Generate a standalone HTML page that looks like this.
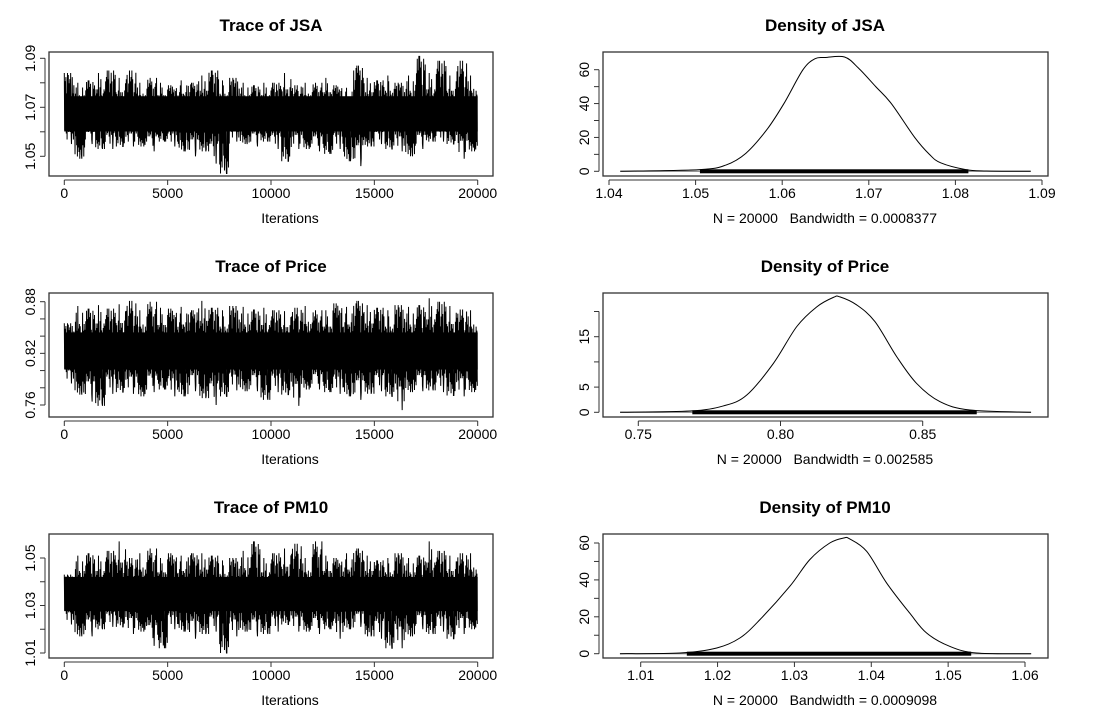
<!DOCTYPE html>
<html><head><meta charset="utf-8"><style>
html,body{margin:0;padding:0;background:#fff;}
svg{display:block;font-family:"Liberation Sans",Arial,sans-serif;}
</style></head><body>
<svg id="c" width="1111" height="723" viewBox="0 0 1111 723"></svg>
<script>
// ---- data ----
const traceNames = ["JSA","Price","PM10"];
const jsaHi = [1.084,1.080,1.081,1.084,1.085,1.082,1.085,1.080,1.082,1.080,1.079,1.081,1.080,1.083,1.085,1.081,1.082,1.080,1.079,1.080,1.080,1.084,1.079,1.080,1.080,1.082,1.079,1.078,1.087,1.082,1.081,1.083,1.080,1.083,1.091,1.084,1.089,1.083,1.089,1.083];
const jsaLo = [1.055,1.049,1.055,1.053,1.053,1.054,1.054,1.054,1.052,1.056,1.054,1.052,1.050,1.052,1.047,1.043,1.056,1.055,1.054,1.056,1.053,1.048,1.053,1.053,1.052,1.051,1.053,1.048,1.046,1.054,1.055,1.053,1.052,1.050,1.053,1.056,1.056,1.055,1.049,1.052];
const priceHi = [0.855,0.875,0.872,0.876,0.872,0.877,0.881,0.870,0.880,0.873,0.872,0.874,0.870,0.881,0.873,0.870,0.875,0.874,0.871,0.873,0.870,0.869,0.873,0.875,0.870,0.870,0.878,0.874,0.881,0.876,0.873,0.870,0.876,0.874,0.876,0.884,0.880,0.875,0.871,0.870];
const priceLo = [0.785,0.772,0.764,0.759,0.773,0.775,0.773,0.770,0.775,0.778,0.770,0.770,0.776,0.768,0.760,0.770,0.777,0.776,0.776,0.766,0.775,0.772,0.759,0.778,0.778,0.775,0.773,0.770,0.766,0.773,0.776,0.770,0.754,0.775,0.776,0.777,0.775,0.771,0.770,0.775];
const pmHi = [1.043,1.051,1.052,1.051,1.053,1.057,1.050,1.052,1.054,1.050,1.052,1.051,1.052,1.052,1.051,1.049,1.050,1.053,1.057,1.050,1.052,1.054,1.056,1.050,1.057,1.051,1.050,1.052,1.054,1.051,1.049,1.050,1.052,1.050,1.051,1.057,1.053,1.051,1.052,1.052];
const pmLo = [1.022,1.017,1.017,1.020,1.021,1.021,1.018,1.019,1.013,1.012,1.020,1.019,1.016,1.018,1.019,1.010,1.017,1.019,1.017,1.018,1.019,1.022,1.019,1.019,1.018,1.020,1.016,1.020,1.021,1.017,1.016,1.012,1.012,1.017,1.020,1.018,1.019,1.016,1.018,1.020];
const iterTicks = [0,5000,10000,15000,20000];
const jsaYTicks = [1.05,1.06,1.07,1.08,1.09];
const priceYTicks = [0.76,0.78,0.80,0.82,0.84,0.86,0.88];
const pmYTicks = [1.01,1.02,1.03,1.04,1.05];

const jsaDX = [1.0413,1.0505,1.0535,1.0558,1.0582,1.0602,1.0624,1.0638,1.0650,1.0672,1.0688,1.0708,1.0726,1.0753,1.0770,1.0783,1.0812,1.0836,1.0887];
const jsaDY = [0,1,3.7,10.6,24.4,40,60,66.5,67.2,67.5,61,50,40,20,10,5,1,0.2,0];
const priceDX = [0.7436,0.7682,0.7799,0.7881,0.7975,0.8057,0.8127,0.8186,0.8209,0.8268,0.8332,0.8409,0.8479,0.8561,0.8666,0.8881];
const priceDY = [0,0.26,1.26,3.4,9.7,17,20.9,22.8,22.9,21.3,18,11,5.7,2.1,0.46,0];
const pmDX = [1.0073,1.0151,1.0199,1.0229,1.0255,1.0294,1.032,1.0346,1.0364,1.0372,1.0394,1.042,1.045,1.0472,1.0502,1.0537,1.0608];
const pmDY = [0,0.36,3.1,8.5,18.4,36.5,51,60,62.7,62.2,55.5,38.3,22,11.2,4,0.36,0];
const jsaDXTicks = [1.04,1.05,1.06,1.07,1.08,1.09];
const jsaDYTicks = [0,10,20,30,40,50,60];
const priceDXTicks = [0.75,0.80,0.85];
const priceDYTicks = [0,5,10,15,20];
const pmDXTicks = [1.01,1.02,1.03,1.04,1.05,1.06];
const pmDYTicks = [0,10,20,30,40,50,60];
const bandwidths = ["0.0008377","0.002585","0.0009098"];

const svg = document.getElementById('c');
const NS = 'http://www.w3.org/2000/svg';
function mk(tag, attrs, parent){
  const e = document.createElementNS(NS, tag);
  for (const k in attrs) e.setAttribute(k, attrs[k]);
  (parent||svg).appendChild(e);
  return e;
}
function lin(d0,d1,r0,r1){ return v => r0 + (v-d0)*(r1-r0)/(d1-d0); }

function frame(g, x0,y0,x1,y1){
  const r = mk('rect',{x:x0,y:y0,width:x1-x0,height:y1-y0,fill:'none',stroke:'#333','stroke-width':1.3},g);
  
  
}
function text(g, x,y,s,opts){
  const t = mk('text',Object.assign({x:x,y:y,'text-anchor':'middle','font-size':14,fill:'#000'},opts||{}),g);
  t.textContent = s;
  return t;
}
function xAxis(g, ticks, sx, yb, fmt){
  const ax = mk('g',{},g);
  
  
  mk('line',{x1:sx(ticks[0]),x2:sx(ticks[ticks.length-1]),y1:yb+4,y2:yb+4,stroke:'#333'},ax);
  ticks.forEach((t)=>{
    mk('line',{x1:sx(t),x2:sx(t),y1:yb+4,y2:yb+9,stroke:'#333'},ax);
    const lb = text(ax, sx(t), yb+22, fmt(t));
    
    
  });
}
function yAxis(g, ticks, sy, xl, fmt, showLabel){
  const ax = mk('g',{},g);
  
  
  mk('line',{x1:xl-4,x2:xl-4,y1:sy(ticks[0]),y2:sy(ticks[ticks.length-1]),stroke:'#333'},ax);
  ticks.forEach((t,i)=>{
    mk('line',{x1:xl-4,x2:xl-9,y1:sy(t),y2:sy(t),stroke:'#333'},ax);
    if (showLabel(i)){
      const lx = xl-14;
      const lb = text(ax, lx, sy(t), fmt(t), {transform:`rotate(-90 ${lx} ${sy(t)})`});
      
      
    }
  });
}

const rows = [[52,176],[293,417],[534,658]];
const traceHi = [jsaHi,priceHi,pmHi], traceLo = [jsaLo,priceLo,pmLo];
const traceYT = [jsaYTicks,priceYTicks,pmYTicks];
const traceYMap = [[1.09,58.3,1.05,156.3],[0.88,301.7,0.76,405],[1.05,558,1.01,653]];
const dX = [jsaDX,priceDX,pmDX], dY=[jsaDY,priceDY,pmDY];
const dXT = [jsaDXTicks,priceDXTicks,pmDXTicks], dYT=[jsaDYTicks,priceDYTicks,pmDYTicks];
const dXMap = [[1.04,609,1.09,1042],[0.75,638.3,0.85,922.7],[1.01,640.7,1.06,1025]];
const dYMap = [[0,171.3,60,69.7],[0,412.3,15,336.7],[0,653.7,60,543]];
const dYLab = [i=>i%2==0, i=>i!=2 && i!=4, i=>i%2==0];
const tYLab = [i=>i%2==0, i=>i%3==0, i=>i%2==0];
const rugRange = [[1.0505,1.0815],[0.769,0.869],[1.016,1.053]];
// drawing pattern (style only): relative swing of each stroke inside a bin
const swing = [1,0.55,0.8,0.4,0.9,0.65,0.5,0.85,0.7,0.45,0.95,0.6,0.75,0.5,0.85,0.6];

rows.forEach((r,ri)=>{
  const [y0,y1] = r;
  // ---- trace panel ----
  const g = mk('g',{});
  
  
  const sx = lin(0,20000,64.3,477.7);
  const m = traceYMap[ri];
  const sy = lin(m[0],m[2],m[1],m[3]);
  const t1 = text(g,271,y0-21,'Trace of '+traceNames[ri],{'font-size':17,'font-weight':'bold'});
  
  
  const hi = traceHi[ri], lo = traceLo[ri];
  const n = hi.length, bw = 20000/n;
  const mean = (hi.reduce((a,b)=>a+b,0)+lo.reduce((a,b)=>a+b,0))/(2*n);
  let zig='';
  const K = 26;
  for (let i=0;i<n;i++){
    for (let k=0;k<K;k++){
      const s = swing[(k+i*3)%swing.length];
      const v = (k%2==0) ? mean+(hi[i]-mean)*s : mean-(mean-lo[i])*s;
      const vv = (k==Math.floor(K/3)) ? hi[i] : (k==Math.floor(2*K/3)+1 ? lo[i] : v);
      zig += `${sx((i+k/K)*bw)},${sy(vv)} `;
    }
  }
  const core = mk('rect',{x:sx(0),width:sx(20000)-sx(0),y:sy(mean)-0.18*(sy(m[2])-sy(m[0])),height:0.36*(sy(m[2])-sy(m[0])),fill:'#000'},g);
  
  
  const tl = mk('polyline',{points:zig,fill:'none',stroke:'#000','stroke-width':1},g);
  
  
  frame(g,49,y0,493,y1);
  xAxis(g,iterTicks,sx,y1,v=>String(v));
  yAxis(g,traceYT[ri],sy,49,v=>v.toFixed(2),tYLab[ri]);
  const xl = text(g,290,y1+47,'Iterations');
  
  

  // ---- density panel ----
  const h = mk('g',{});
  
  
  const dm = dXMap[ri], ym = dYMap[ri];
  const dsx = lin(dm[0],dm[2],dm[1],dm[3]);
  const dsy = lin(ym[0],ym[2],ym[1],ym[3]);
  const t2 = text(h,825,y0-21,'Density of '+traceNames[ri],{'font-size':17,'font-weight':'bold'});
  
  
  const xs = dX[ri], ys = dY[ri];
  const P = xs.map((x,i)=>[dsx(x),dsy(ys[i])]);
  let d = `M${P[0][0]},${P[0][1]}`;
  for (let i=0;i<P.length-1;i++){
    const p0=P[Math.max(0,i-1)],p1=P[i],p2=P[i+1],p3=P[Math.min(P.length-1,i+2)];
    d += ` C${p1[0]+(p2[0]-p0[0])/6},${p1[1]+(p2[1]-p0[1])/6} ${p2[0]-(p3[0]-p1[0])/6},${p2[1]-(p3[1]-p1[1])/6} ${p2[0]},${p2[1]}`;
  }
  const z0 = dsy(0);
  const zl = mk('line',{x1:P[0][0],x2:P[P.length-1][0],y1:z0,y2:z0,stroke:'#777','stroke-width':1},h);
  
  
  const rug = mk('rect',{x:dsx(rugRange[ri][0]),y:z0-2,width:dsx(rugRange[ri][1])-dsx(rugRange[ri][0]),height:4,fill:'#000'},h);
  
  
  const curve = mk('path',{d:d,fill:'none',stroke:'#000','stroke-width':1},h);
  
  
  frame(h,603,y0,1048,y1);
  xAxis(h,dXT[ri],dsx,y1,v=>v.toFixed(2));
  yAxis(h,dYT[ri],dsy,603,v=>String(v),dYLab[ri]);
  const bl = text(h,825,y1+47,'N = 20000   Bandwidth = '+bandwidths[ri]);
  bl.setAttribute('style','white-space:pre');
  
  
});
</script>
</body></html>
